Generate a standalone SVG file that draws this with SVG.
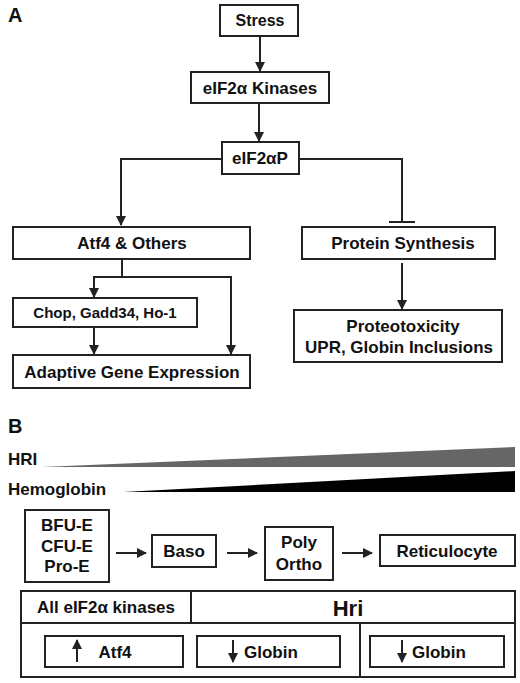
<svg xmlns="http://www.w3.org/2000/svg" width="520" height="683" viewBox="0 0 520 683">
<defs>
<style>
text{font-family:"Liberation Sans",Arial,sans-serif;font-weight:bold;fill:#111;text-anchor:middle;font-size:17px}
.b{fill:#fff;stroke:#222;stroke-width:2}
.l{fill:none;stroke:#222;stroke-width:2}
.a{fill:none;stroke:#222;stroke-width:2;marker-end:url(#ah)}
</style>
<marker id="ah" viewBox="0 0 10 10" refX="9" refY="5" markerWidth="5" markerHeight="5" orient="auto" markerUnits="strokeWidth">
<path d="M0,0 L10,5 L0,10 z" fill="#222"/>
</marker>
</defs>
<rect width="520" height="683" fill="#fff"/>
<text x="8" y="22" style="text-anchor:start;font-size:20px">A</text>
<text x="8" y="433" style="text-anchor:start;font-size:20px">B</text>

<g id="connectors">
<line class="a" x1="260" y1="36" x2="260" y2="71"/>
<line class="a" x1="259" y1="103" x2="259" y2="141"/>
<polyline class="a" points="222,159 121,159 121,225"/>
<polyline class="l" points="299,159 402,159 402,222"/>
<line class="l" x1="389" y1="222" x2="415" y2="222"/>
<line class="l" x1="122" y1="259" x2="122" y2="277"/>
<polyline class="a" points="231,277 94,277 94,297"/>
<polyline class="a" points="122,277 231,277 231,354"/>
<line class="a" x1="94" y1="327" x2="94" y2="354"/>
<line class="a" x1="402" y1="263" x2="402" y2="309"/>
<line class="a" x1="116" y1="553" x2="146" y2="553"/>
<line class="a" x1="227" y1="553" x2="257" y2="553"/>
<line class="a" x1="342" y1="553" x2="372" y2="553"/>
</g>

<g id="stress"><rect class="b" x="220" y="5" width="78" height="31"/><text x="260" y="26" style="font-size:16px">Stress</text></g>
<g id="kinases"><rect class="b" x="191" y="72" width="138" height="31"/><text x="260" y="94">eIF2α Kinases</text></g>
<g id="eif2ap"><rect class="b" x="222" y="142" width="77" height="32"/><text x="260" y="164">eIF2αP</text></g>
<g id="atf4"><rect class="b" x="13" y="227" width="237" height="32"/><text x="132" y="249">Atf4 &amp; Others</text></g>
<g id="protein"><rect class="b" x="302" y="227" width="193" height="32"/><text x="403" y="249">Protein Synthesis</text></g>
<g id="chop"><rect class="b" x="13" y="298" width="184" height="29"/><text x="105" y="318" style="font-size:15px">Chop, Gadd34, Ho-1</text></g>
<g id="adaptive"><rect class="b" x="13" y="355" width="237" height="33"/><text x="132" y="378">Adaptive Gene Expression</text></g>
<g id="proteo"><rect class="b" x="294" y="310" width="208" height="52"/><text x="403" y="332">Proteotoxicity</text><text x="399" y="353">UPR, Globin Inclusions</text></g>

<g id="hri-gradient"><text x="8" y="465" style="text-anchor:start">HRI</text><polygon points="42,467 515,447 515,467" fill="#666"/></g>
<g id="hb-gradient"><text x="8" y="495" style="text-anchor:start">Hemoglobin</text><polygon points="123,492 515,471 515,492" fill="#000"/></g>

<g id="bfu"><rect class="b" x="25" y="510" width="84" height="72"/><text x="67" y="531">BFU-E</text><text x="67" y="552">CFU-E</text><text x="67" y="572">Pro-E</text></g>
<g id="baso"><rect class="b" x="152" y="535" width="64" height="32"/><text x="184" y="557">Baso</text></g>
<g id="poly"><rect class="b" x="265" y="527" width="68" height="53"/><text x="299" y="548">Poly</text><text x="299" y="570">Ortho</text></g>
<g id="retic"><rect class="b" x="380" y="535" width="135" height="31"/><text x="447" y="557">Reticulocyte</text></g>

<g id="table">
<rect class="b" x="21" y="591" width="494" height="86"/>
<line class="l" x1="21" y1="623" x2="515" y2="623"/>
<line class="l" x1="191" y1="591" x2="191" y2="623"/>
<line class="l" x1="360" y1="623" x2="360" y2="677"/>
<text x="106" y="613">All  eIF2α kinases</text>
<text x="348" y="616" style="font-size:22px">Hri</text>
</g>
<g id="atf4-up"><rect class="b" x="45" y="636" width="138" height="31"/><line class="a" x1="77" y1="662" x2="77" y2="640"/><text x="115" y="658">Atf4</text></g>
<g id="globin1"><rect class="b" x="197" y="636" width="143" height="31"/><line class="a" x1="233" y1="640" x2="233" y2="662"/><text x="244" y="658" style="text-anchor:start">Globin</text></g>
<g id="globin2"><rect class="b" x="370" y="636" width="134" height="31"/><line class="a" x1="402" y1="640" x2="402" y2="662"/><text x="412" y="658" style="text-anchor:start">Globin</text></g>
</svg>
